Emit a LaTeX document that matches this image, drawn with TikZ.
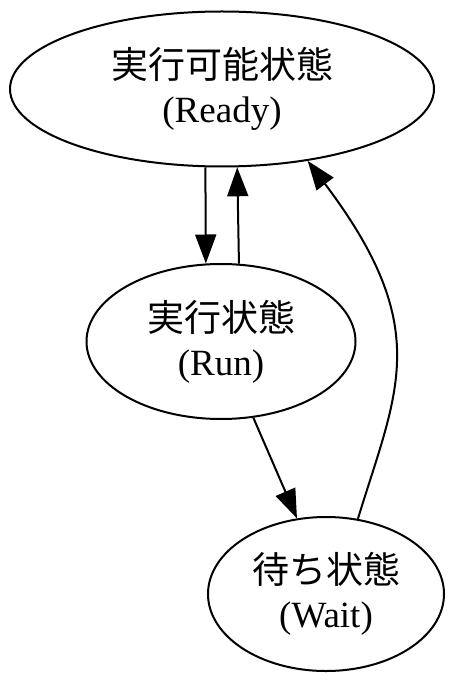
\documentclass[tikz,border=0pt]{standalone}
\usepackage{fontspec}
\setmainfont{Liberation Serif}
\newfontfamily\cjk{Noto Sans CJK JP}
\usetikzlibrary{arrows.meta,shapes.geometric}
\begin{document}
\begin{tikzpicture}[x=1pt,y=1pt,
  state/.style={ellipse,draw,line width=2pt,inner sep=0pt,align=center,
    font=\fontsize{37}{44}\selectfont},
  edge/.style={line width=2pt,-{Triangle[length=29pt,width=21pt]}}]
\useasboundingbox (0,0) rectangle (454,-684);
\node[state,minimum width=424pt,minimum height=155pt] (ready) at (222,-89)
  {{\cjk 実行可能状態}\\(Ready)};
\node[state,minimum width=269pt,minimum height=155pt] (run) at (221,-341.5)
  {{\cjk 実行状態}\\(Run)};
\node[state,minimum width=236pt,minimum height=154pt] (wait) at (326,-594)
  {{\cjk 待ち状態}\\(Wait)};
\draw[edge] (ready.-102.4) -- (run.101.7);
\draw[edge] (run.77.6) -- (ready.-79);
\draw[edge] (run.-67.3) -- (wait.111.8);
\draw[edge] (wait.67.2) .. controls +(73:135) and +(-53:210) .. (ready.-40.7);
\end{tikzpicture}
\end{document}
